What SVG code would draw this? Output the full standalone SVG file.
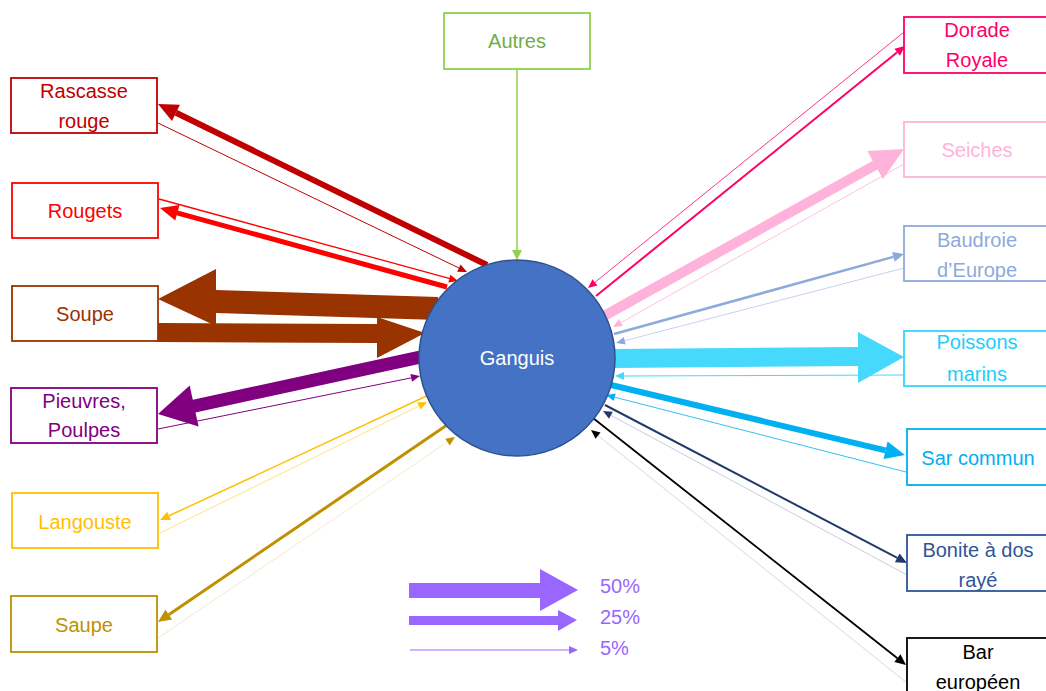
<svg xmlns="http://www.w3.org/2000/svg" width="1046" height="691" viewBox="0 0 1046 691">
<style>
text{font-family:"Liberation Sans",Arial,sans-serif;font-size:20px;text-anchor:middle}
.box{fill:#fff;stroke-width:1.8}
.leg{font-size:20px;text-anchor:start;fill:#9966FF}
</style>
<rect width="1046" height="691" fill="#fff"/>
<g id="connectors">
 <!-- Rascasse -->
 <line x1="487" y1="265" x2="176" y2="112.8" stroke="#C00000" stroke-width="6"/>
 <polygon points="158,104 179.9,104.7 172,120.9" fill="#C00000"/>
 <line x1="158" y1="123" x2="459" y2="268" stroke="#C00000" stroke-width="1"/>
 <polygon points="467,272 457.2,271.7 460.6,264.5" fill="#C00000"/>
 <!-- Rougets -->
 <line x1="447" y1="287" x2="177" y2="212.8" stroke="#FF0000" stroke-width="5"/>
 <polygon points="160,208 179.5,205.1 175.2,220.5" fill="#FF0000"/>
 <line x1="159" y1="199" x2="450" y2="278.6" stroke="#FF0000" stroke-width="1.3"/>
 <polygon points="458,281 448.3,282.5 450.4,274.8" fill="#FF0000"/>
 <!-- Soupe -->
 <polygon points="438,297 216,290 216,269 158,299 216,326 216,313 438,320" fill="#993300"/>
 <polygon points="158,323 377,324 377,317 425,333 377,358 377,343 158,342" fill="#993300"/>
 <!-- Pieuvres -->
 <polygon points="421.4,363.4 195.5,412.5 198.6,426.6 158,414 189.7,385.6 192.8,399.8 418.6,350.7" fill="#800080"/>
 <line x1="158" y1="429" x2="411.5" y2="377.8" stroke="#800080" stroke-width="1"/>
 <polygon points="420,376 412,381.7 410.4,373.9" fill="#800080"/>
 <!-- Langouste -->
 <line x1="433" y1="393" x2="169" y2="515.8" stroke="#FFC000" stroke-width="1.5"/>
 <polygon points="160,520 167.2,511.7 171,519.9" fill="#FFC000"/>
 <line x1="160" y1="533" x2="419" y2="406" stroke="#FFD966" stroke-width="0.8"/>
 <polygon points="427,402 420.7,409.6 417.2,402.4" fill="#FFC000"/>
 <!-- Saupe -->
 <line x1="447" y1="425" x2="168.7" y2="614.7" stroke="#BF9000" stroke-width="3"/>
 <polygon points="158,622 165.4,609.7 172.1,619.6" fill="#BF9000"/>
 <line x1="158" y1="638" x2="447.6" y2="442" stroke="#EEE0B8" stroke-width="0.7"/>
 <polygon points="455,437 449.8,445.4 445.3,438.7" fill="#BF9000"/>
 <!-- Autres -->
 <line x1="517" y1="69" x2="517" y2="251" stroke="#92D050" stroke-width="1.5"/>
 <polygon points="517,260 512,250 522,250" fill="#92D050"/>
 <!-- Dorade -->
 <line x1="904" y1="32" x2="595" y2="282.3" stroke="#FF0066" stroke-width="0.8"/>
 <polygon points="588,288 592.5,279.2 597.5,285.4" fill="#FF0066"/>
 <line x1="596" y1="296" x2="897.2" y2="52.3" stroke="#FF0066" stroke-width="2"/>
 <polygon points="905,46 900,55.8 894.4,48.8" fill="#FF0066"/>
 <!-- Seiches -->
 <polygon points="606.4,320.4 877.6,169.4 883,179 904,149 867.4,151.1 872.7,160.7 601.6,311.6" fill="#FFB3DA"/>
 <line x1="904" y1="164" x2="620.9" y2="322.6" stroke="#FFB3DA" stroke-width="0.8"/>
 <polygon points="613,327 618.9,319.1 622.8,326.1" fill="#FFB3DA"/>
 <!-- Baudroie -->
 <line x1="614" y1="334" x2="893.4" y2="256.9" stroke="#8EA9DB" stroke-width="2.5"/>
 <polygon points="904,254 894.7,261.7 892.1,252.1" fill="#8EA9DB"/>
 <line x1="904" y1="268" x2="624.7" y2="340.7" stroke="#B4C7E7" stroke-width="0.8"/>
 <polygon points="616,343 623.7,336.9 625.7,344.6" fill="#8EA9DB"/>
 <!-- Poissons marins -->
 <polygon points="612,349 858,347 858,332 904,357 858,383 858,366 612,368" fill="#46D9FD"/>
 <line x1="904" y1="375" x2="624" y2="376" stroke="#46D9FD" stroke-width="1.2"/>
 <polygon points="615,376 624,372 624,380" fill="#46D9FD"/>
 <!-- Sar commun -->
 <line x1="611" y1="385" x2="885.5" y2="450.4" stroke="#00B0F0" stroke-width="6"/>
 <polygon points="905,455 883.5,459.1 887.6,441.6" fill="#00B0F0"/>
 <line x1="906" y1="472" x2="614.7" y2="397.2" stroke="#00B0F0" stroke-width="0.8"/>
 <polygon points="606,395 615.7,393.4 613.7,401.1" fill="#00B0F0"/>
 <!-- Bonite -->
 <line x1="605" y1="405" x2="897.3" y2="557.9" stroke="#223A6B" stroke-width="2"/>
 <polygon points="907,563 894.9,562.3 899.6,553.5" fill="#223A6B"/>
 <line x1="907" y1="575" x2="610.9" y2="415.3" stroke="#ADB9CA" stroke-width="0.7"/>
 <polygon points="603,411 612.8,411.8 609,418.8" fill="#223A6B"/>
 <!-- Bar -->
 <line x1="593" y1="418" x2="897.4" y2="658.2" stroke="#000" stroke-width="1.8"/>
 <polygon points="906,665 894.3,662.1 900.5,654.3" fill="#000"/>
 <line x1="907" y1="683" x2="598" y2="435.6" stroke="#BFBFBF" stroke-width="0.6"/>
 <polygon points="591,430 600.5,432.5 595.5,438.7" fill="#000"/>
</g>
<g id="ganguis">
 <circle cx="517" cy="358" r="98" fill="#4472C4" stroke="#2F528F" stroke-width="1.5"/>
 <text x="517" y="365" fill="#fff">Ganguis</text>
</g>
<g id="autres"><rect class="box" x="444" y="13" width="146" height="56" stroke="#92D050"/><text x="517" y="48" fill="#70AD47">Autres</text></g>
<g id="rascasse"><rect class="box" x="11" y="78" width="146" height="55" stroke="#C00000"/><text x="84" y="98" fill="#C00000">Rascasse</text><text x="84" y="128" fill="#C00000">rouge</text></g>
<g id="rougets"><rect class="box" x="12" y="183" width="146" height="55" stroke="#FF0000"/><text x="85" y="218" fill="#FF0000">Rougets</text></g>
<g id="soupe"><rect class="box" x="12" y="286" width="146" height="55" stroke="#993300"/><text x="85" y="321" fill="#993300">Soupe</text></g>
<g id="pieuvres"><rect class="box" x="11" y="388" width="146" height="55" stroke="#800080"/><text x="84" y="408" fill="#800080">Pieuvres,</text><text x="84" y="437" fill="#800080">Poulpes</text></g>
<g id="langouste"><rect class="box" x="12" y="493" width="146" height="55" stroke="#FFC000"/><text x="85" y="529" fill="#FFC000">Langouste</text></g>
<g id="saupe"><rect class="box" x="11" y="596" width="146" height="56" stroke="#BF9000"/><text x="84" y="632" fill="#BF9000">Saupe</text></g>
<g id="dorade"><rect class="box" x="904" y="17" width="146" height="56" stroke="#FF0066"/><text x="977" y="37" fill="#FF0066">Dorade</text><text x="977" y="67" fill="#FF0066">Royale</text></g>
<g id="seiches"><rect class="box" x="904" y="122" width="146" height="55" stroke="#FFB3DA"/><text x="977" y="157" fill="#FFB3DA">Seiches</text></g>
<g id="baudroie"><rect class="box" x="904" y="226" width="146" height="55" stroke="#8EA9DB"/><text x="977" y="247" fill="#8EA9DB">Baudroie</text><text x="977" y="277" fill="#8EA9DB">d’Europe</text></g>
<g id="poissons"><rect class="box" x="904" y="331" width="146" height="55" stroke="#33D6FF"/><text x="977" y="349" fill="#1CCFFB">Poissons</text><text x="977" y="381" fill="#1CCFFB">marins</text></g>
<g id="sar"><rect class="box" x="907" y="429" width="143" height="56" stroke="#00B0F0"/><text x="978" y="465" fill="#00B0F0">Sar commun</text></g>
<g id="bonite"><rect class="box" x="907" y="535" width="143" height="56" stroke="#2F5597"/><text x="978" y="557" fill="#2F5597">Bonite à dos</text><text x="978" y="587" fill="#2F5597">rayé</text></g>
<g id="bar"><rect class="box" x="907" y="638" width="143" height="60" stroke="#000"/><text x="978" y="659" fill="#000">Bar</text><text x="978" y="689" fill="#000">européen</text></g>
<g id="legend">
 <polygon points="409,583 540,583 540,569 578,590 540,611 540,598 409,598" fill="#9966FF"/>
 <polygon points="409,616 558,616 558,610 577,620 558,631 558,625 409,625" fill="#9966FF"/>
 <line x1="410" y1="650" x2="570" y2="650" stroke="#9966FF" stroke-width="1"/>
 <polygon points="578,650 569,646 569,654" fill="#9966FF"/>
 <text class="leg" x="600" y="593">50%</text>
 <text class="leg" x="600" y="624">25%</text>
 <text class="leg" x="600" y="655">5%</text>
</g>
</svg>
